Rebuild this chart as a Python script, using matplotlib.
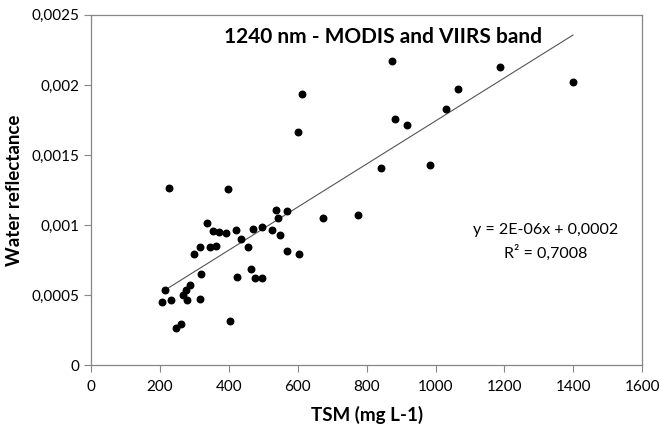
import matplotlib.pyplot as plt
import matplotlib.ticker as mticker
import numpy as np

# TSM (mg L-1) vs water reflectance at 1240 nm
tsm = [226, 397, 537, 568, 542, 673, 775, 336, 354, 371,
       392, 421, 470, 496, 526, 549, 435, 457, 317, 346,
       364, 299, 568, 604, 319, 463, 423, 476, 496, 216,
       288, 277, 268, 231, 207, 279, 316, 262, 246, 402,
       612, 601, 842, 874, 1188, 1399, 1064, 1029, 881, 916,
       985]
reflectance = [0.001262, 0.001257, 0.001107, 0.001102, 0.001052, 0.001048, 0.001071, 0.001017, 0.000957, 0.000948,
               0.000940, 0.000962, 0.000971, 0.000988, 0.000967, 0.000926, 0.000898, 0.000845, 0.000845, 0.000845,
               0.000850, 0.000795, 0.000814, 0.000790, 0.000652, 0.000688, 0.000629, 0.000619, 0.000619, 0.000538,
               0.000569, 0.000536, 0.000498, 0.000462, 0.000448, 0.000462, 0.000469, 0.000293, 0.000267, 0.000316,
               0.001933, 0.001667, 0.001405, 0.002174, 0.002129, 0.002024, 0.001969, 0.001826, 0.001755, 0.001717,
               0.001431]

x_ticks = [0, 200, 400, 600, 800, 1000, 1200, 1400, 1600]
y_ticks = [0, 0.0005, 0.001, 0.0015, 0.002, 0.0025]

title = "1240 nm - MODIS and VIIRS band"
eq_text = "y = 2E-06x + 0,0002"
r2_text = "R² = 0,7008"

plt.rcParams['font.family'] = ['Lato', 'DejaVu Sans']

fig = plt.figure(figsize=(6.6, 4.25), dpi=100)
ax = fig.add_axes([0.138, 0.141, 0.835, 0.824])

ax.scatter(tsm, reflectance, s=22, color='black', zorder=3)

# linear trendline over data range
xs = np.array(tsm, dtype=float)
coef = np.polyfit(xs, reflectance, 1)
xl = np.array([xs.min(), xs.max()])
ax.plot(xl, np.polyval(coef, xl), color='#555555', lw=0.8, zorder=2)

ax.set_xlim(0, 1600)
ax.set_ylim(0, 0.0025)
ax.set_xticks(x_ticks)
ax.set_yticks(y_ticks)
ax.yaxis.set_major_formatter(mticker.FuncFormatter(
    lambda v, p: "0" if v == 0 else ("%g" % v).replace('.', ',')))

for sp in ax.spines.values():
    sp.set_color('#868686')
    sp.set_linewidth(0.9)
ax.tick_params(axis='both', colors='#868686', labelcolor='black',
               labelsize=11, length=5, width=0.8, direction='out')
ax.tick_params(axis='x', pad=6)

ax.set_xlabel("TSM (mg L-1)", fontsize=13.5, fontweight='bold', labelpad=8)
ax.set_ylabel("Water reflectance", fontsize=13.5, fontweight='bold', labelpad=6)

ax.text(0.53, 0.937, title, transform=ax.transAxes, ha='center', va='center',
        fontsize=15, fontweight='bold')
ax.text(0.825, 0.386, eq_text, transform=ax.transAxes, ha='center', va='center',
        fontsize=11.5)
ax.text(0.825, 0.32, r2_text, transform=ax.transAxes, ha='center', va='center',
        fontsize=11.5)

fig.savefig("out.png", dpi=100)
